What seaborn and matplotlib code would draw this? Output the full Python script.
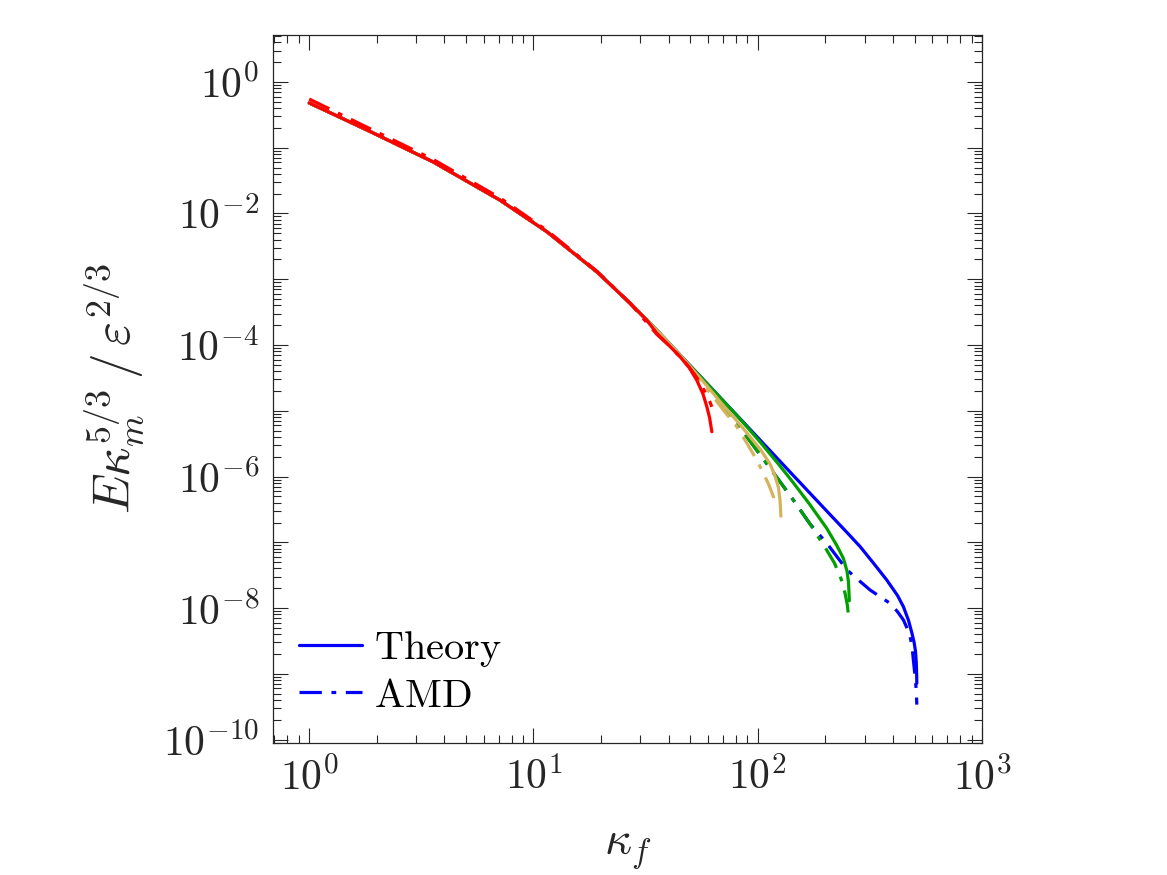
import numpy as np
import pandas as pd
import seaborn as sns
import matplotlib
matplotlib.use("Agg")
import matplotlib.pyplot as plt
from matplotlib.ticker import LogLocator, FixedLocator, FuncFormatter, NullFormatter
from matplotlib.lines import Line2D

# shared low-wavenumber part
k_base = [1.0, 1.81, 3.58, 7.1, 11.5, 19.2, 27.0, 32.0]
E_base = [0.48, 0.186, 0.0605, 0.0159, 5.25e-3, 1.29e-3, 4.3e-4, 2.39e-4]

# Theory (solid) tails
k_blue_th = [35.5, 46.6, 59.3, 83.4, 117.5, 144, 203, 250, 286, 330, 376, 420, 446, 470,
             487, 498, 505, 509, 511, 512]
E_blue_th = [1.68e-4, 6.25e-5, 2.61e-5, 7.57e-6, 2.18e-6, 1.04e-6, 2.99e-7, 1.41e-7, 8.6e-8,
             4.7e-8, 2.67e-8, 1.55e-8, 1.05e-8, 6.5e-9, 4.14e-9, 3.0e-9, 2.2e-9, 1.5e-9,
             1.0e-9, 7.2e-10]
k_green_th = [35.5, 46.6, 59.3, 83.4, 102.5, 125, 144, 170, 203, 225, 241, 250, 254, 256]
E_green_th = [1.68e-4, 6.2e-5, 2.6e-5, 7.49e-6, 3.35e-6, 1.48e-6, 8.06e-7, 3.82e-7, 1.63e-7,
              8.98e-8, 5.67e-8, 3.65e-8, 2.42e-8, 1.29e-8]
k_gold_th = [35.5, 46.6, 59.3, 70.3, 82, 92.5, 103, 113.5, 119, 123.7, 125.8, 126.8]
E_gold_th = [1.68e-4, 6.2e-5, 2.4e-5, 1.2e-5, 6.6e-6, 4.0e-6, 2.55e-6, 1.55e-6, 1.05e-6,
             6.8e-7, 4.2e-7, 2.5e-7]
k_red_th = [35.5, 40, 45.1, 49.5, 53.5, 57, 59.3, 61, 62.4]
E_red_th = [1.5e-4, 1.0e-4, 6.6e-5, 4.5e-5, 2.9e-5, 1.8e-5, 1.15e-5, 7.8e-6, 4.8e-6]

# AMD (dash-dot) tails
k_blue_amd = [46.6, 59.3, 72.8, 84, 95.7, 110, 125, 144, 171, 203, 250, 280, 317, 355, 389,
              420, 446, 465, 478, 488, 494, 500, 505, 509, 512]
E_blue_amd = [5.9e-5, 2.36e-5, 1.02e-5, 5.36e-6, 2.94e-6, 1.55e-6, 8.55e-7, 4.4e-7, 1.9e-7,
              9.7e-8, 3.8e-8, 2.7e-8, 1.88e-8, 1.45e-8, 1.18e-8, 8.8e-9, 6.6e-9, 4.8e-9,
              3.7e-9, 2.5e-9, 1.63e-9, 1.1e-9, 8e-10, 5.5e-10, 3.4e-10]
k_green_amd = [46.6, 59.3, 72.8, 84, 95.7, 110, 125, 144, 171, 203, 220, 235, 245, 251, 254]
E_green_amd = [5.9e-5, 2.36e-5, 1.02e-5, 5.36e-6, 2.94e-6, 1.55e-6, 8.55e-7, 4.4e-7, 1.9e-7,
               7.6e-8, 4.8e-8, 2.8e-8, 1.68e-8, 1.1e-8, 7.4e-9]
k_gold_amd = [46.6, 55, 62.4, 71, 80.7, 90, 99, 106, 112, 117.5, 118.5]
E_gold_amd = [5.9e-5, 2.9e-5, 1.73e-5, 9.8e-6, 5.7e-6, 3.1e-6, 1.78e-6, 1.12e-6, 7.5e-7,
              4.9e-7, 4.2e-7]
k_red_amd = [1.0, 1.81, 3.58, 7.1, 11.5, 19.2, 27.0, 35.5, 40, 45.1, 49.5, 53.5, 57, 59.3,
             61, 62.4]
E_red_amd = [0.55, 0.205, 0.066, 0.0172, 5.5e-3, 1.32e-3, 4.3e-4, 1.45e-4, 1.0e-4, 6.6e-5,
             4.6e-5, 3.2e-5, 2.2e-5, 1.7e-5, 1.4e-5, 1.15e-5]

blue, green, gold, red = "#0000ff", "#00a000", "#d4b45a", "#ff0000"
dashdot = (0, (7, 3, 1.5, 3))
edge = "#262626"

sns.set_style("ticks")
plt.rcParams["font.family"] = ["DejaVu Serif"]
plt.rcParams["mathtext.fontset"] = "cm"

fig = plt.figure(figsize=(11.67, 8.75), dpi=100)
ax = fig.add_axes([0.234, 0.151, 0.6075, 0.809])

curves = [
    (k_base + k_blue_amd, E_base + E_blue_amd, blue, dashdot),
    (k_base + k_blue_th, E_base + E_blue_th, blue, "-"),
    (k_base + k_green_amd, E_base + E_green_amd, green, dashdot),
    (k_base + k_green_th, E_base + E_green_th, green, "-"),
    (k_base + k_gold_amd, E_base + E_gold_amd, gold, dashdot),
    (k_base + k_gold_th, E_base + E_gold_th, gold, "-"),
    (k_red_amd, E_red_amd, red, dashdot),
    (k_base + k_red_th, E_base + E_red_th, red, "-"),
]
for k, E, c, ls in curves:
    df = pd.DataFrame({"k": k, "E": E})
    sns.lineplot(data=df, x="k", y="E", ax=ax, color=c, linestyle=ls, lw=2.3,
                 sort=False, estimator=None, legend=False)

ax.set_xscale("log")
ax.set_yscale("log")
ax.set_xlim(0.69, 1000)
ax.set_ylim(10 ** -10.05, 10 ** 0.714)

ax.xaxis.set_major_locator(FixedLocator([1, 10, 100, 1000]))
ax.yaxis.set_major_locator(FixedLocator([10.0 ** e for e in range(-10, 1)]))
ax.xaxis.set_minor_locator(LogLocator(base=10, subs=np.arange(2, 10), numticks=50))
ax.yaxis.set_minor_locator(LogLocator(base=10, subs=np.arange(2, 10), numticks=50))
ax.xaxis.set_minor_formatter(NullFormatter())
ax.yaxis.set_minor_formatter(NullFormatter())
ax.xaxis.set_major_formatter(FuncFormatter(lambda v, p: r"$10^{%d}$" % round(np.log10(v))))
ax.yaxis.set_major_formatter(FuncFormatter(
    lambda v, p: r"$10^{%d}$" % round(np.log10(v)) if round(np.log10(v)) % 2 == 0 else ""))

ax.tick_params(which="both", direction="in", top=True, right=True, color=edge,
               labelcolor=edge, labelsize=30)
ax.tick_params(which="major", length=11, width=0.8, pad=10)
ax.tick_params(which="minor", length=6, width=0.8)
for s in ax.spines.values():
    s.set_color(edge)
    s.set_linewidth(0.9)

ax.set_xlabel(r"$\kappa_f$", fontsize=34, labelpad=20, color=edge)
ax.set_ylabel(r"$E\kappa_m^{5/3}\,/\,\varepsilon^{2/3}$", fontsize=37, labelpad=12, color=edge)

handles = [Line2D([], [], color=blue, lw=2.3, linestyle="-"),
           Line2D([], [], color=blue, lw=2.3, linestyle=dashdot)]
leg = ax.legend(handles, [r"$\mathrm{Theory}$", r"$\mathrm{AMD}$"], loc="lower left",
                bbox_to_anchor=(0.037, 0.04), frameon=False, fontsize=29,
                handlelength=1.55, handletextpad=0.3, labelspacing=0.22,
                borderpad=0, borderaxespad=0)
for t in leg.get_texts():
    t.set_color("black")

fig.savefig("out.png", dpi=100)
